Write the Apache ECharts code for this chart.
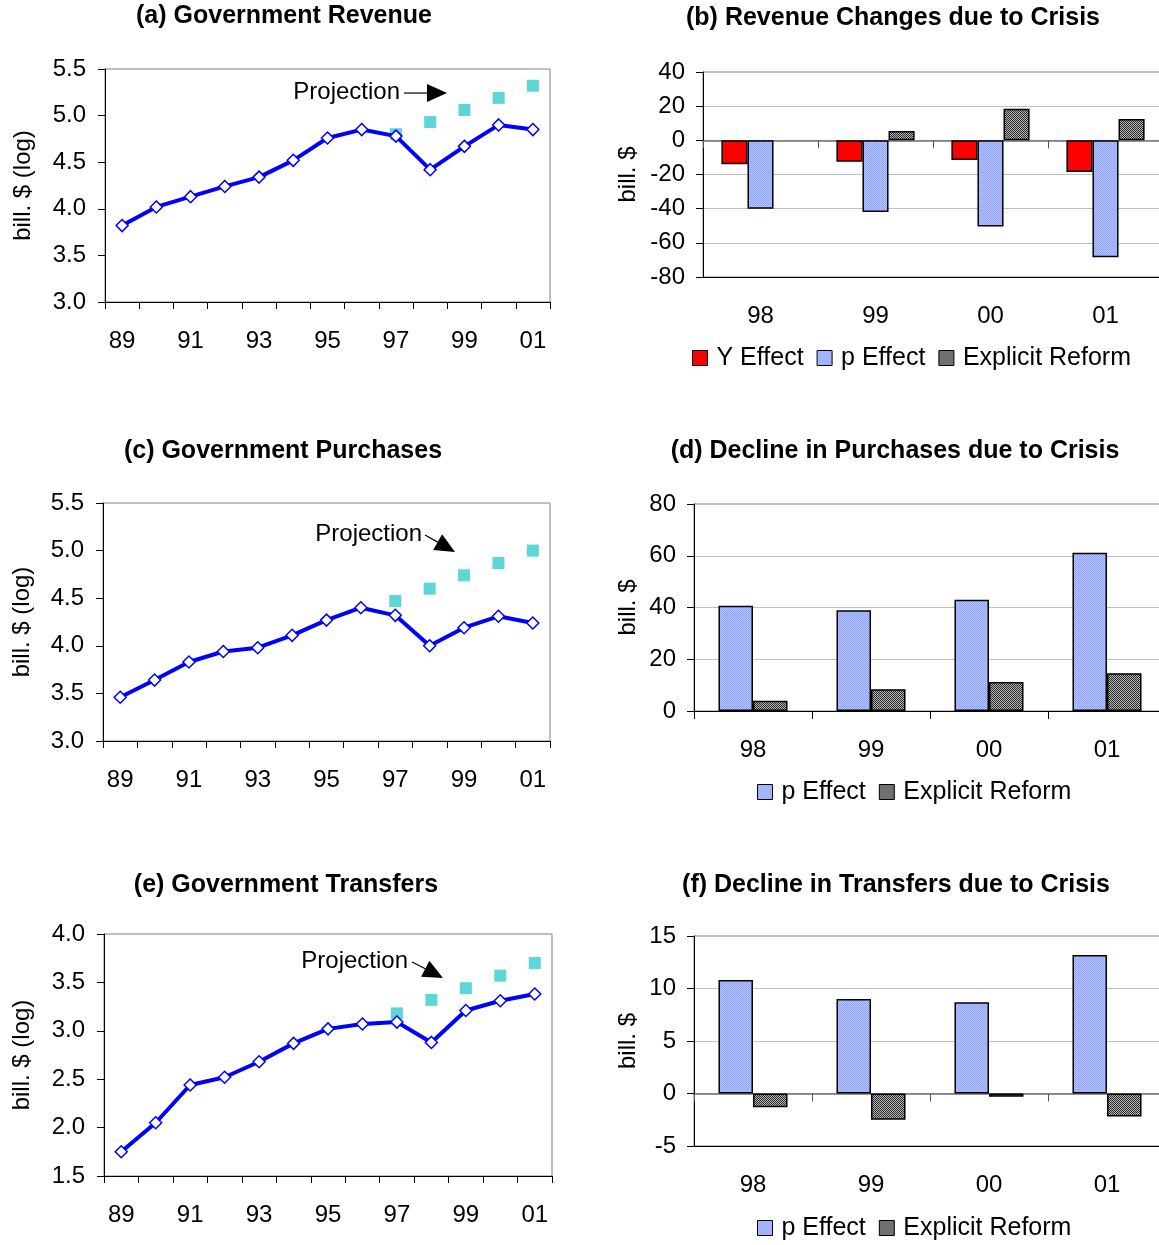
<!DOCTYPE html>
<html>
<head>
<meta charset="utf-8">
<script src="https://cdn.jsdelivr.net/npm/echarts@6/dist/echarts.min.js"></script>
<style>
  html, body { margin: 0; padding: 0; background: #fff; }
  #chart { width: 1159px; height: 1245px; }
</style>
</head>
<body>
<div id="chart"></div>
<script>
// ---------------- data ----------------
const years = ['89','90','91','92','93','94','95','96','97','98','99','00','01'];
const revenueActual     = [3.82, 4.02, 4.13, 4.24, 4.34, 4.52, 4.76, 4.85, 4.78, 4.42, 4.67, 4.90, 4.85];
const revenueProjection = [null, null, null, null, null, null, null, null, 4.80, 4.93, 5.06, 5.19, 5.32];
const purchasesActual     = [3.46, 3.64, 3.83, 3.94, 3.98, 4.11, 4.27, 4.40, 4.32, 4.00, 4.19, 4.31, 4.24];
const purchasesProjection = [null, null, null, null, null, null, null, null, 4.47, 4.60, 4.74, 4.87, 5.00];
const transfersActual     = [1.75, 2.05, 2.44, 2.52, 2.68, 2.87, 3.02, 3.07, 3.09, 2.88, 3.21, 3.31, 3.38];
const transfersProjection = [null, null, null, null, null, null, null, null, 3.18, 3.32, 3.44, 3.57, 3.70];

const crisisYears = ['98','99','00','01'];
const revYEffect   = [-14, -12.5, -11.5, -18.5];
const revPEffect   = [-40, -42, -50.5, -68.5];
const revReform    = [null, 5.5, 18.5, 12.5];
const purPEffect   = [40.7, 38.9, 43.0, 61.2];
const purReform    = [4.0, 8.4, 11.2, 14.6];
const traPEffect   = [10.8, 9.0, 8.7, 13.2];
const traReform    = [-1.3, -2.5, -0.3, -2.2];

const titles = [
  '(a) Government Revenue', '(b) Revenue Changes due to Crisis',
  '(c) Government Purchases', '(d) Decline in Purchases due to Crisis',
  '(e) Government Transfers', '(f) Decline in Transfers due to Crisis'
];

// ---------------- styles ----------------
const FONT = '"Liberation Sans", Arial, Helvetica, sans-serif';
const FS = 24;

function makePattern(cells) {
  const n = cells.length;
  const c = document.createElement('canvas');
  c.width = n; c.height = n;
  const ctx = c.getContext('2d');
  for (let y = 0; y < n; y++) for (let x = 0; x < n; x++) {
    ctx.fillStyle = cells[y][x];
    ctx.fillRect(x, y, 1, 1);
  }
  return { image: c, repeat: 'repeat' };
}
const pColor = makePattern([['#95a9ff', '#b3c2ff'], ['#b3c2ff', '#8ea2f6']]);
const reformColor = makePattern([['#2c2c2c', '#b4b4b4'], ['#b4b4b4', '#2c2c2c']]);
const yColor = '#ff0000';

const lineGrids = [
  { left: 105, top: 69,  width: 445, height: 233 },
  { left: 103, top: 503, width: 447, height: 238 },
  { left: 104, top: 934, width: 448, height: 242 }
];
const barGrids = [
  { left: 703, top: 72,  width: 460, height: 205 },
  { left: 694, top: 504, width: 472, height: 207 },
  { left: 694, top: 936, width: 472, height: 210 }
];

const grids = [lineGrids[0], barGrids[0], lineGrids[1], barGrids[1], lineGrids[2], barGrids[2]].map(g => Object.assign({
  show: true, borderColor: '#808080', borderWidth: 1, backgroundColor: 'transparent',
  containLabel: false, outerBoundsMode: 'none'
}, g));

const labelStyle = { color: '#000', fontSize: FS, fontFamily: FONT };

function catAxisLabels(gridIndex, data, interval) {
  return {
    type: 'category', gridIndex, data, position: 'bottom', boundaryGap: true,
    axisLine: { show: true, onZero: false, lineStyle: { color: '#000', width: 1 } },
    axisTick: { show: true, interval: 0, alignWithLabel: false, length: 7, inside: false, lineStyle: { color: '#000' } },
    axisLabel: Object.assign({ show: true, interval, margin: 27 }, labelStyle),
    splitLine: { show: false }
  };
}
function hiddenValueX(gridIndex) {
  return { type: 'value', gridIndex, min: -0.5, max: 12.5, show: false, position: 'top',
           axisLine: { onZero: false }, splitLine: { show: false } };
}
function yAxisDef(gridIndex, min, max, interval, name, nameGap, decimals, grid, margin) {
  return {
    type: 'value', gridIndex, min, max, interval,
    name, nameLocation: 'middle', nameGap, nameRotate: 90,
    nameTextStyle: { color: '#000', fontSize: FS, fontFamily: FONT },
    axisLine: { show: true, onZero: false, lineStyle: { color: '#000', width: 1 } },
    axisTick: { show: true, length: 7, inside: false, lineStyle: { color: '#000' } },
    axisLabel: Object.assign({ show: true, margin, formatter: v => v.toFixed(decimals) }, labelStyle),
    splitLine: { show: grid, lineStyle: { color: '#c0c0c0', width: 1 } }
  };
}

const xAxes = [
  // grid 0 (a)
  catAxisLabels(0, years, 1),               // 0
  hiddenValueX(0),                          // 1
  // grid 1 (b)
  { type: 'category', gridIndex: 1, data: crisisYears, position: 'bottom', boundaryGap: true,
    axisLine: { show: true, onZero: true, lineStyle: { color: '#707070', width: 1.5 } },
    axisTick: { show: true, interval: 0, length: 8, inside: false, lineStyle: { color: '#555' } },
    axisLabel: { show: false }, splitLine: { show: false } },   // 2
  { type: 'category', gridIndex: 1, data: crisisYears, position: 'bottom', boundaryGap: true,
    axisLine: { show: true, onZero: false, lineStyle: { color: '#000', width: 1 } },
    axisTick: { show: false },
    axisLabel: Object.assign({ show: true, interval: 0, margin: 27 }, labelStyle),
    splitLine: { show: false } },             // 3
  // grid 2 (c)
  catAxisLabels(2, years, 1),               // 4
  hiddenValueX(2),                          // 5
  // grid 3 (d)
  Object.assign(catAxisLabels(3, crisisYears, 0), { axisTick: { show: true, interval: 0, length: 8, lineStyle: { color: '#000' } } }), // 6
  // grid 4 (e)
  catAxisLabels(4, years, 1),               // 7
  hiddenValueX(4),                          // 8
  // grid 5 (f)
  { type: 'category', gridIndex: 5, data: crisisYears, position: 'bottom', boundaryGap: true,
    axisLine: { show: true, onZero: true, lineStyle: { color: '#707070', width: 1.5 } },
    axisTick: { show: true, interval: 0, length: 8, inside: false, lineStyle: { color: '#555' } },
    axisLabel: { show: false }, splitLine: { show: false } },   // 9
  { type: 'category', gridIndex: 5, data: crisisYears, position: 'bottom', boundaryGap: true,
    axisLine: { show: true, onZero: false, lineStyle: { color: '#000', width: 1 } },
    axisTick: { show: false },
    axisLabel: Object.assign({ show: true, interval: 0, margin: 27 }, labelStyle),
    splitLine: { show: false } }              // 10
];

const yAxes = [
  yAxisDef(0, 3.0, 5.5, 0.5, 'bill. $ (log)', 70, 1, false, 19),
  yAxisDef(1, -80, 40, 20, 'bill. $', 63, 0, true, 18),
  yAxisDef(2, 3.0, 5.5, 0.5, 'bill. $ (log)', 69, 1, false, 19),
  yAxisDef(3, 0, 80, 20, 'bill. $', 54, 0, true, 18),
  yAxisDef(4, 1.5, 4.0, 0.5, 'bill. $ (log)', 70, 1, false, 19),
  yAxisDef(5, -5, 15, 5, 'bill. $', 54, 0, true, 18)
];

function projSeries(xi, yi, data) {
  return { type: 'scatter', name: 'Projection', xAxisIndex: xi, yAxisIndex: yi, data,
           symbol: 'rect', symbolSize: 12, itemStyle: { color: '#33cccc' }, z: 2, silent: true };
}
function actualSeries(xi, yi, data) {
  return { type: 'line', name: 'Actual', xAxisIndex: xi, yAxisIndex: yi, data,
           symbol: 'diamond', symbolSize: 12, showAllSymbol: true,
           lineStyle: { color: '#0000ff', width: 4 },
           itemStyle: { color: '#ffffff', borderColor: '#0000ff', borderWidth: 1.5 }, z: 3, silent: true };
}
const barBorder = { borderColor: '#000', borderWidth: 1.5 };
function barSeries(name, xi, yi, data, color, gap) {
  return { type: 'bar', name, xAxisIndex: xi, yAxisIndex: yi, data,
           barGap: '0%', barCategoryGap: gap,
           itemStyle: Object.assign({ color }, barBorder), silent: true };
}

const series = [
  projSeries(0, 0, revenueProjection), actualSeries(0, 0, revenueActual),
  projSeries(4, 2, purchasesProjection), actualSeries(4, 2, purchasesActual),
  projSeries(7, 4, transfersProjection), actualSeries(7, 4, transfersActual),
  barSeries('Y Effect', 2, 1, revYEffect, yColor, '32%'),
  barSeries('p Effect', 2, 1, revPEffect, pColor, '32%'),
  barSeries('Explicit Reform', 2, 1, revReform, reformColor, '32%'),
  barSeries('p Effect', 6, 3, purPEffect, pColor, '41.5%'),
  barSeries('Explicit Reform', 6, 3, purReform, reformColor, '41.5%'),
  barSeries('p Effect', 9, 5, traPEffect, pColor, '41.5%'),
  barSeries('Explicit Reform', 9, 5, traReform, reformColor, '41.5%')
];

const legendBase = {
  orient: 'horizontal', icon: 'rect', itemWidth: 15, itemHeight: 15, itemGap: 13,
  selectedMode: false, padding: 0,
  itemStyle: { borderColor: '#000', borderWidth: 1 },
  textStyle: { color: '#000', fontSize: 25, fontFamily: FONT, lineHeight: 28, padding: [0, 0, 0, 4] }
};
const legends = [
  Object.assign({ data: ['Y Effect', 'p Effect', 'Explicit Reform'], left: 692, top: 344 }, legendBase),
  Object.assign({ data: ['p Effect', 'Explicit Reform'], left: 757, top: 778 }, legendBase),
  Object.assign({ data: ['p Effect', 'Explicit Reform'], left: 757, top: 1214 }, legendBase)
];

const chart = echarts.init(document.getElementById('chart'), null, { renderer: 'canvas' });
chart.setOption({
  animation: false,
  backgroundColor: '#ffffff',
  textStyle: { fontFamily: FONT },
  grid: grids,
  xAxis: xAxes,
  yAxis: yAxes,
  legend: legends,
  series
});

// ---------------- titles & annotations ----------------
const titlePos = [[284, 16], [893, 18], [283, 451], [895, 451], [286, 885], [896, 885]];
const graphics = titles.map((t, i) => ({
  type: 'text', x: titlePos[i][0], y: titlePos[i][1], silent: true,
  style: { text: t, textAlign: 'center', textVerticalAlign: 'middle', fill: '#000',
           font: 'bold 25px ' + FONT }
}));

// annotation anchors in data space (hidden value x axis, y axis of each line grid)
const annotations = [
  { xAxisIndex: 1, yAxisIndex: 0, text: [8.118, 5.253], from: [8.235, 5.242], to: [9.491, 5.242] },
  { xAxisIndex: 5, yAxisIndex: 2, text: [8.779, 5.174], from: [8.866, 5.164], to: [9.738, 4.985] },
  { xAxisIndex: 8, yAxisIndex: 4, text: [8.322, 3.721], from: [8.438, 3.711], to: [9.337, 3.545] }
];
annotations.forEach(a => {
  const finder = { xAxisIndex: a.xAxisIndex, yAxisIndex: a.yAxisIndex };
  const pt = chart.convertToPixel(finder, a.text);
  const p0 = chart.convertToPixel(finder, a.from);
  const p1 = chart.convertToPixel(finder, a.to);
  graphics.push({
    type: 'text', x: pt[0], y: pt[1], silent: true,
    style: { text: 'Projection', textAlign: 'right', textVerticalAlign: 'middle', fill: '#000',
             font: FS + 'px ' + FONT }
  });
  const dx = p1[0] - p0[0], dy = p1[1] - p0[1];
  const len = Math.sqrt(dx * dx + dy * dy);
  const ux = dx / len, uy = dy / len;
  const headLen = 20, headHalf = 9;
  const bx = p1[0] - ux * headLen, by = p1[1] - uy * headLen;
  graphics.push({
    type: 'line', silent: true,
    shape: { x1: p0[0], y1: p0[1], x2: bx, y2: by },
    style: { stroke: '#000', lineWidth: 1.2 }
  });
  graphics.push({
    type: 'polygon', silent: true,
    shape: { points: [[p1[0], p1[1]], [bx - uy * headHalf, by + ux * headHalf], [bx + uy * headHalf, by - ux * headHalf]] },
    style: { fill: '#000' }
  });
});
chart.setOption({ graphic: graphics });
</script>
</body>
</html>
